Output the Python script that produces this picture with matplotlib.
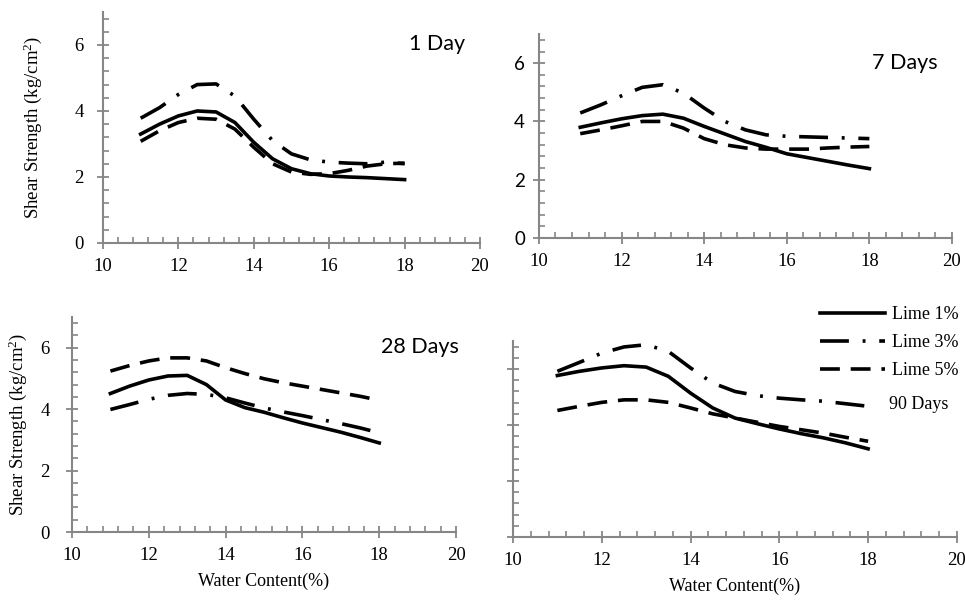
import matplotlib
matplotlib.use('Agg')
import matplotlib.pyplot as plt
from matplotlib.ticker import MultipleLocator

water = [11, 11.5, 12, 12.5, 13, 13.5, 14, 14.5, 15, 15.5, 16, 16.5, 17, 17.5, 18]

# 1 day
d1_lime1 = [3.30, 3.60, 3.85, 4.00, 3.97, 3.65, 3.05, 2.55, 2.25, 2.10, 2.03, 2.00, 1.98, 1.95, 1.92]
d1_lime3 = [3.78, 4.10, 4.50, 4.80, 4.82, 4.45, 3.75, 3.10, 2.70, 2.52, 2.45, 2.42, 2.40, 2.45, 2.40]
d1_lime5 = [3.08, 3.40, 3.65, 3.78, 3.75, 3.45, 2.90, 2.40, 2.15, 2.08, 2.10, 2.20, 2.33, 2.40, 2.42]

# 7 days
d7_lime1 = [3.80, 3.95, 4.09, 4.20, 4.25, 4.11, 3.83, 3.57, 3.31, 3.11, 2.89, 2.76, 2.63, 2.50, 2.38]
d7_lime3 = [4.29, 4.57, 4.88, 5.17, 5.26, 4.97, 4.46, 4.00, 3.71, 3.54, 3.49, 3.47, 3.45, 3.43, 3.41]
d7_lime5 = [3.58, 3.71, 3.85, 4.00, 4.00, 3.77, 3.41, 3.20, 3.09, 3.05, 3.05, 3.05, 3.09, 3.12, 3.14]

# 28 days
d28_lime1 = [4.51, 4.75, 4.95, 5.08, 5.10, 4.80, 4.30, 4.05, 3.90, 3.72, 3.55, 3.40, 3.25, 3.08, 2.90]
d28_lime3 = [3.99, 4.15, 4.32, 4.45, 4.51, 4.48, 4.37, 4.20, 4.04, 3.91, 3.79, 3.66, 3.53, 3.39, 3.23]
d28_lime5 = [5.24, 5.42, 5.57, 5.67, 5.67, 5.57, 5.35, 5.16, 4.99, 4.86, 4.75, 4.64, 4.53, 4.42, 4.29]

# 90 days
d90_lime1 = [5.77, 5.92, 6.04, 6.12, 6.07, 5.74, 5.14, 4.61, 4.25, 4.05, 3.86, 3.69, 3.54, 3.36, 3.15]
d90_lime3 = [5.92, 6.24, 6.57, 6.79, 6.87, 6.63, 6.04, 5.50, 5.20, 5.05, 4.96, 4.90, 4.85, 4.76, 4.67]
d90_lime5 = [4.52, 4.67, 4.81, 4.90, 4.90, 4.81, 4.61, 4.40, 4.25, 4.10, 3.95, 3.83, 3.71, 3.56, 3.42]

labels = ['Lime 1%', 'Lime 3%', 'Lime 5%']
serif = 'Liberation Serif'
sans = 'Lato'
grey = '#868686'

plt.rcParams['mathtext.fontset'] = 'custom'
plt.rcParams['mathtext.rm'] = serif
plt.rcParams['mathtext.it'] = serif

fig = plt.figure(figsize=(9.65, 6.01), dpi=100)

def panel(rect, series, title, title_xy, ysans=False, ylabels=True, ylab=True, xlab=False,
          ypad=9, lpad=10):
    ax = fig.add_axes(rect)
    styles = [dict(ls='-'), dict(dashes=(8, 3.8, 0.8, 3.8)), dict(dashes=(5.5, 3))]
    lines = []
    for ys, st, lab in zip(series, styles, labels):
        l, = ax.plot(water, ys, color='black', lw=2.6, label=lab,
                     solid_joinstyle='round', dash_joinstyle='round', **st)
        lines.append(l)
    ax.set_xlim(10, 20)
    ax.set_ylim(0, 7)
    ax.xaxis.set_major_locator(MultipleLocator(2))
    ax.xaxis.set_minor_locator(MultipleLocator(0.4))
    ax.yaxis.set_major_locator(MultipleLocator(2))
    ax.yaxis.set_minor_locator(MultipleLocator(0.4))
    for s in ['top', 'right']:
        ax.spines[s].set_visible(False)
    for s in ['left', 'bottom']:
        ax.spines[s].set_color(grey)
        ax.spines[s].set_linewidth(1.5)
    ax.tick_params(which='major', direction='inout', length=8, width=1.3, color=grey, labelsize=13.5)
    ax.tick_params(which='minor', direction='in', length=4, width=1.2, color=grey)
    ax.tick_params(axis='x', pad=7)
    ax.tick_params(axis='y', pad=ypad)
    for t in ax.get_xticklabels():
        t.set_fontfamily(serif)
    for t in ax.get_yticklabels():
        t.set_fontfamily(sans if ysans else serif)
    if not ylabels:
        ax.set_yticklabels([])
    if ylab:
        ax.set_ylabel('Shear Strength (kg/cm$^2$)', fontfamily=serif, fontsize=13.5, labelpad=lpad)
    if xlab:
        ax.set_xlabel('Water Content(%)', fontfamily=serif, fontsize=13, labelpad=6)
    if title:
        ax.text(title_xy[0], title_xy[1], title, transform=ax.transAxes, fontfamily=sans,
                fontsize=15.5, ha='center', va='center')
    return ax, lines

panel([0.1067, 0.5957, 0.3907, 0.3844], [d1_lime1, d1_lime3, d1_lime5], '1 Day', (0.885, 0.86),
      ypad=10, lpad=22)
panel([0.5585, 0.604, 0.428, 0.3394], [d7_lime1, d7_lime3, d7_lime5], '7 Days', (0.885, 0.86),
      ysans=True, ylab=False, ypad=6)
panel([0.0746, 0.1148, 0.398, 0.3577], [d28_lime1, d28_lime3, d28_lime5], '28 Days', (0.905, 0.86),
      xlab=True, ypad=12, lpad=8)
ax4, lines = panel([0.5316, 0.1065, 0.46, 0.326], [d90_lime1, d90_lime3, d90_lime5], None, None,
                   ylabels=False, ylab=False, xlab=True)

leg = ax4.legend(handles=lines, loc='upper left', bbox_to_anchor=(0.655, 1.26), frameon=False,
                 prop={'family': serif, 'size': 13}, handlelength=3.6, handletextpad=0.4,
                 labelspacing=0.6)
ax4.text(0.915, 0.675, '90 Days', transform=ax4.transAxes, fontfamily=serif, fontsize=13,
         ha='center', va='center')

fig.savefig('out.png', dpi=100)
